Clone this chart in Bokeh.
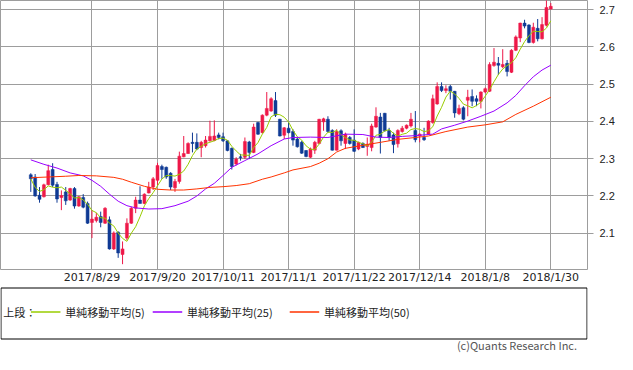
import numpy as np
import pandas as pd
from bokeh.plotting import figure
from bokeh.models import ColumnDataSource, Range1d, FixedTicker, PrintfTickFormatter
from bokeh.layouts import column
from bokeh.core.properties import value
from bokeh.embed import file_html
from bokeh.resources import INLINE

# ---------------- data ----------------
tick_idx = [14, 29, 44, 59, 74, 89, 104, 119]
tick_labels = ["2017/8/29", "2017/9/20", "2017/10/11", "2017/11/1",
               "2017/11/22", "2017/12/14", "2018/1/8", "2018/1/30"]
y_ticks = [2.1, 2.2, 2.3, 2.4, 2.5, 2.6, 2.7]

opens = [2.257, 2.251, 2.202, 2.198, 2.230, 2.271, 2.231, 2.196, 2.211, 2.189,
         2.220, 2.173, 2.196, 2.180, 2.129, 2.134, 2.145, 2.127, 2.136, 2.058,
         2.103, 2.043, 2.087, 2.127, 2.167, 2.189, 2.180, 2.208, 2.224, 2.242,
         2.279, 2.277, 2.261, 2.222, 2.239, 2.305, 2.314, 2.344, 2.344, 2.330,
         2.335, 2.348, 2.349, 2.364, 2.359, 2.348, 2.328, 2.286, 2.305, 2.304,
         2.345, 2.317, 2.397, 2.370, 2.417, 2.428, 2.456, 2.406, 2.363, 2.382,
         2.373, 2.353, 2.344, 2.322, 2.304, 2.323, 2.341, 2.399, 2.406, 2.376,
         2.323, 2.375, 2.341, 2.357, 2.350, 2.326, 2.341, 2.333, 2.330, 2.385,
         2.412, 2.422, 2.376, 2.364, 2.340, 2.373, 2.382, 2.388, 2.376, 2.361,
         2.357, 2.366, 2.397, 2.447, 2.494, 2.483, 2.494, 2.481, 2.421, 2.437,
         2.457, 2.467, 2.461, 2.454, 2.479, 2.481, 2.550, 2.556, 2.547, 2.556,
         2.532, 2.591, 2.624, 2.664, 2.659, 2.612, 2.650, 2.622, 2.658, 2.702]
highs = [2.261, 2.259, 2.224, 2.233, 2.284, 2.288, 2.238, 2.215, 2.224, 2.222,
         2.224, 2.200, 2.205, 2.185, 2.162, 2.155, 2.158, 2.170, 2.145, 2.105,
         2.105, 2.078, 2.140, 2.171, 2.198, 2.226, 2.207, 2.238, 2.251, 2.289,
         2.284, 2.279, 2.264, 2.246, 2.319, 2.361, 2.344, 2.370, 2.368, 2.348,
         2.361, 2.402, 2.403, 2.370, 2.370, 2.350, 2.330, 2.304, 2.313, 2.357,
         2.348, 2.394, 2.399, 2.419, 2.479, 2.465, 2.479, 2.407, 2.385, 2.397,
         2.379, 2.357, 2.348, 2.323, 2.330, 2.348, 2.407, 2.410, 2.414, 2.379,
         2.379, 2.379, 2.370, 2.361, 2.379, 2.346, 2.344, 2.357, 2.394, 2.438,
         2.423, 2.423, 2.383, 2.370, 2.379, 2.388, 2.392, 2.423, 2.428, 2.368,
         2.383, 2.403, 2.472, 2.505, 2.505, 2.497, 2.498, 2.482, 2.445, 2.441,
         2.485, 2.486, 2.470, 2.481, 2.491, 2.559, 2.597, 2.573, 2.594, 2.565,
         2.594, 2.631, 2.665, 2.673, 2.661, 2.665, 2.675, 2.680, 2.728, 2.718]
lows = [2.211, 2.198, 2.182, 2.196, 2.229, 2.224, 2.182, 2.162, 2.176, 2.187,
        2.166, 2.171, 2.167, 2.125, 2.087, 2.129, 2.116, 2.125, 2.056, 2.055,
        2.034, 2.017, 2.081, 2.125, 2.154, 2.180, 2.178, 2.207, 2.216, 2.229,
        2.246, 2.246, 2.216, 2.211, 2.233, 2.304, 2.313, 2.317, 2.323, 2.304,
        2.330, 2.346, 2.347, 2.352, 2.345, 2.320, 2.271, 2.282, 2.295, 2.299,
        2.299, 2.315, 2.364, 2.368, 2.414, 2.426, 2.412, 2.360, 2.353, 2.368,
        2.335, 2.330, 2.313, 2.304, 2.302, 2.313, 2.339, 2.375, 2.370, 2.322,
        2.322, 2.335, 2.326, 2.338, 2.318, 2.323, 2.329, 2.308, 2.320, 2.383,
        2.314, 2.373, 2.348, 2.315, 2.330, 2.370, 2.379, 2.384, 2.344, 2.344,
        2.348, 2.364, 2.394, 2.445, 2.479, 2.476, 2.459, 2.410, 2.417, 2.403,
        2.414, 2.441, 2.441, 2.435, 2.476, 2.479, 2.547, 2.525, 2.543, 2.521,
        2.530, 2.589, 2.613, 2.650, 2.610, 2.609, 2.615, 2.620, 2.655, 2.700]
closes = [2.246, 2.200, 2.191, 2.230, 2.268, 2.229, 2.192, 2.201, 2.187, 2.220,
          2.173, 2.198, 2.170, 2.127, 2.138, 2.143, 2.129, 2.167, 2.058, 2.101,
          2.047, 2.058, 2.127, 2.167, 2.189, 2.180, 2.205, 2.224, 2.246, 2.282,
          2.271, 2.251, 2.224, 2.239, 2.307, 2.314, 2.341, 2.341, 2.326, 2.344,
          2.350, 2.360, 2.361, 2.357, 2.348, 2.322, 2.279, 2.299, 2.303, 2.346,
          2.317, 2.385, 2.366, 2.417, 2.435, 2.461, 2.417, 2.361, 2.383, 2.370,
          2.350, 2.332, 2.315, 2.306, 2.326, 2.344, 2.406, 2.407, 2.373, 2.323,
          2.373, 2.348, 2.366, 2.341, 2.320, 2.344, 2.330, 2.339, 2.388, 2.414,
          2.357, 2.375, 2.357, 2.338, 2.376, 2.382, 2.390, 2.406, 2.351, 2.366,
          2.351, 2.401, 2.461, 2.494, 2.483, 2.488, 2.481, 2.423, 2.435, 2.406,
          2.465, 2.454, 2.454, 2.479, 2.488, 2.553, 2.559, 2.551, 2.553, 2.534,
          2.591, 2.627, 2.664, 2.656, 2.612, 2.653, 2.622, 2.660, 2.706, 2.709]

ma25_idx = [0, 3, 6, 9, 12, 14, 16, 18, 20, 22, 24, 27, 30, 33, 36, 38, 40, 42,
            44, 46, 49, 52, 55, 58, 60, 64, 68, 72, 76, 79, 82, 85, 88, 92, 94,
            97, 100, 103, 106, 109, 111, 113, 115, 117, 119]
ma25_val = [2.297, 2.285, 2.275, 2.262, 2.254, 2.242, 2.226, 2.205, 2.186, 2.174,
            2.168, 2.165, 2.166, 2.174, 2.186, 2.200, 2.219, 2.234, 2.255, 2.277,
            2.295, 2.313, 2.335, 2.353, 2.357, 2.358, 2.357, 2.366, 2.365, 2.358,
            2.357, 2.360, 2.362, 2.366, 2.380, 2.390, 2.401, 2.414, 2.428, 2.450,
            2.470, 2.496, 2.520, 2.538, 2.551]
ma50_idx = [0, 4, 8, 11, 15, 19, 21, 23, 26, 29, 32, 35, 38, 41, 44, 47, 50, 53,
            55, 58, 60, 64, 66, 68, 70, 72, 76, 80, 84, 88, 91, 95, 100, 104, 108,
            111, 115, 119]
ma50_val = [2.249, 2.251, 2.253, 2.255, 2.254, 2.250, 2.245, 2.237, 2.226, 2.218,
            2.216, 2.216, 2.219, 2.223, 2.225, 2.228, 2.233, 2.245, 2.251, 2.262,
            2.270, 2.279, 2.288, 2.300, 2.318, 2.328, 2.336, 2.344, 2.352, 2.357,
            2.361, 2.373, 2.385, 2.391, 2.399, 2.419, 2.441, 2.465]

legend_title = "上段："
legend_labels = ["単純移動平均(5)", "単純移動平均(25)", "単純移動平均(50)"]
copyright_text = "(c)Quants Research Inc."

# ---------------- styles ----------------
UP = "#EE1848"
DOWN = "#0F3A94"
MA_COLORS = ["#99CC00", "#9900FF", "#FF3300"]
GRID = "#9d9d9d"
FONT = "Noto Sans CJK JP"
W = 617

idx = np.arange(len(closes))
o = np.array(opens); c = np.array(closes)
colors = [UP if cc >= oo else DOWN for oo, cc in zip(o, c)]
src = ColumnDataSource(dict(
    x=idx, high=highs, low=lows,
    top=np.maximum(o, c), bottom=np.minimum(o, c), color=colors))

ma5 = pd.Series(closes).rolling(5, min_periods=1).mean().to_numpy()

p = figure(width=W, height=286, output_backend="svg", toolbar_location=None,
           x_range=Range1d(-6.93, 127.4), y_range=Range1d(2.0027, 2.7247),
           y_axis_location="right", min_border_left=0, min_border_top=0,
           min_border_right=30, min_border_bottom=14)
p.outline_line_color = GRID
p.outline_line_width = 1
p.background_fill_color = "white"
p.border_fill_color = "white"

p.xgrid.ticker = FixedTicker(ticks=tick_idx)
p.ygrid.ticker = FixedTicker(ticks=y_ticks)
p.grid.grid_line_color = GRID
p.grid.grid_line_width = 1

p.xaxis.ticker = FixedTicker(ticks=tick_idx)
p.xaxis.major_label_overrides = {t: l for t, l in zip(tick_idx, tick_labels)}
p.xaxis.axis_line_color = None
p.xaxis.major_tick_line_color = None
p.xaxis.major_tick_out = 0
p.xaxis.major_tick_in = 0
p.xaxis.minor_tick_line_color = None
p.xaxis.major_label_standoff = 1
p.xaxis.major_label_text_font = "DejaVu Sans"
p.xaxis.major_label_text_font_size = "11px"
p.xaxis.major_label_text_color = "#222222"

p.yaxis.ticker = FixedTicker(ticks=y_ticks)
p.yaxis.formatter = PrintfTickFormatter(format="%.1f")
p.yaxis.axis_line_color = None
p.yaxis.major_tick_line_color = GRID
p.yaxis.major_tick_out = 6
p.yaxis.major_tick_in = 0
p.yaxis.minor_tick_line_color = None
p.yaxis.major_label_standoff = 6
p.yaxis.major_label_text_font = "Liberation Sans"
p.yaxis.major_label_text_font_size = "11px"
p.yaxis.major_label_text_color = "#222222"

p.segment(x0="x", y0="low", x1="x", y1="high", color="color", line_width=1, source=src)
p.vbar(x="x", width=0.68, top="top", bottom="bottom", fill_color="color",
       line_color="color", line_width=0.5, source=src)

p.line(idx, ma5, line_color=MA_COLORS[0], line_width=1)
p.line(ma25_idx, ma25_val, line_color=MA_COLORS[1], line_width=1)
p.line(ma50_idx, ma50_val, line_color=MA_COLORS[2], line_width=1)

# ---------------- legend panel ----------------
H2 = 68
q = figure(width=W, height=H2, output_backend="svg", toolbar_location=None,
           x_range=Range1d(0, W), y_range=Range1d(H2, 0),
           x_axis_type=None, y_axis_type=None,
           min_border_left=0, min_border_right=0, min_border_top=0, min_border_bottom=0)
q.outline_line_color = None
q.grid.visible = False
q.quad(left=[0.5], right=[W - 0.5], top=[1.5], bottom=[52.5],
       fill_color=None, line_color="black", line_width=1)
q.text(x=[3], y=[25], text=[legend_title], text_font=value(FONT),
       text_font_size=value("11px"), text_baseline="middle", text_color="#222222")
seg_x0 = [32, 160, 304]
for sx, lab, col in zip(seg_x0, legend_labels, MA_COLORS):
    q.segment(x0=[sx], y0=[25.5], x1=[sx + 31], y1=[25.5], line_color=col,
              line_width=1.5)
    q.text(x=[sx + 36], y=[25], text=[lab], text_font=value(FONT),
           text_font_size=value("11px"), text_baseline="middle",
           text_color="#222222")
q.text(x=[606], y=[58], text=[copyright_text], text_font=value(FONT),
       text_font_size=value("11px"), text_baseline="middle", text_align="right",
       text_color="#555555")

layout = column(p, q, spacing=0)
open("out.html", "w").write(file_html(layout, INLINE))
